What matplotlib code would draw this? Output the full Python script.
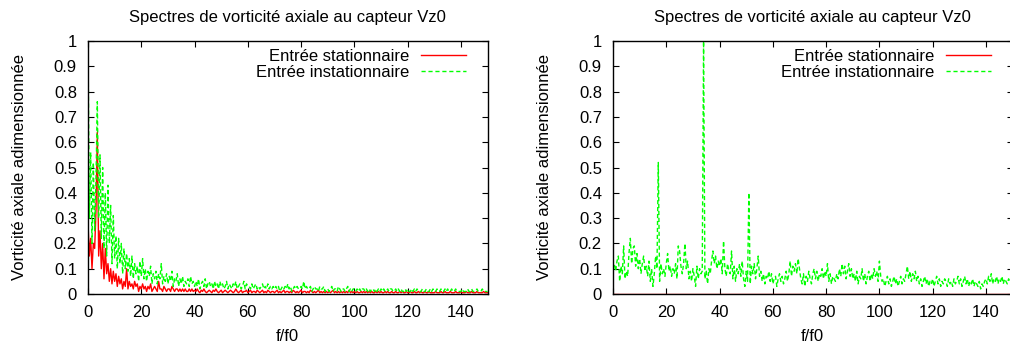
import numpy as np
import matplotlib
matplotlib.use("Agg")
import matplotlib.pyplot as plt

# ============================================
# DATA (step 0.5 in f/f0)
# ============================================

freq = np.arange(0, 150.5, 0.5)

# left panel - unsteady inlet (green)
left_instat = [
    1.00, 0.30, 0.56, 0.20, 0.52, 0.25, 0.45, 0.76, 0.30, 0.55,
    0.22, 0.50, 0.18, 0.40, 0.15, 0.43, 0.20, 0.35, 0.12, 0.31,
    0.14, 0.23, 0.10, 0.22, 0.12, 0.20, 0.08, 0.18, 0.10, 0.16,
    0.09, 0.14, 0.07, 0.15, 0.06, 0.12, 0.08, 0.11, 0.05, 0.13,
    0.07, 0.14, 0.06, 0.10, 0.05, 0.09, 0.07, 0.11, 0.04, 0.08,
    0.06, 0.09, 0.04, 0.08, 0.06, 0.12, 0.04, 0.07, 0.05, 0.08,
    0.04, 0.07, 0.05, 0.09, 0.03, 0.06, 0.05, 0.08, 0.03, 0.06,
    0.04, 0.07, 0.03, 0.05, 0.04, 0.06, 0.03, 0.07, 0.04, 0.05,
    0.03, 0.05, 0.03, 0.06, 0.02, 0.04, 0.05, 0.03, 0.06, 0.02,
    0.04, 0.05, 0.03, 0.04, 0.02, 0.05, 0.03, 0.04, 0.02, 0.05,
    0.03, 0.04, 0.02, 0.03, 0.05, 0.02, 0.04, 0.03, 0.02, 0.04,
    0.03, 0.05, 0.02, 0.03, 0.04, 0.02, 0.03, 0.05, 0.02, 0.04,
    0.03, 0.03, 0.02, 0.04, 0.02, 0.03, 0.04, 0.02, 0.03, 0.02,
    0.03, 0.04, 0.02, 0.03, 0.02, 0.04, 0.02, 0.03, 0.02, 0.03,
    0.02, 0.03, 0.02, 0.03, 0.01, 0.02, 0.03, 0.02, 0.03, 0.02,
    0.04, 0.02, 0.03, 0.01, 0.02, 0.03, 0.02, 0.03, 0.02, 0.02,
    0.03, 0.02, 0.05, 0.02, 0.03, 0.02, 0.02, 0.03, 0.01, 0.02,
    0.03, 0.02, 0.02, 0.01, 0.03, 0.02, 0.02, 0.03, 0.01, 0.02,
    0.02, 0.01, 0.02, 0.03, 0.01, 0.02, 0.02, 0.01, 0.03, 0.02,
    0.01, 0.02, 0.02, 0.01, 0.02, 0.03, 0.01, 0.02, 0.01, 0.02,
    0.02, 0.01, 0.02, 0.01, 0.02, 0.01, 0.02, 0.02, 0.01, 0.02,
    0.01, 0.02, 0.01, 0.02, 0.02, 0.01, 0.02, 0.01, 0.02, 0.01,
    0.02, 0.01, 0.02, 0.01, 0.01, 0.02, 0.01, 0.02, 0.02, 0.01,
    0.01, 0.02, 0.01, 0.02, 0.01, 0.02, 0.01, 0.01, 0.02, 0.01,
    0.02, 0.01, 0.01, 0.02, 0.01, 0.02, 0.01, 0.02, 0.01, 0.01,
    0.01, 0.02, 0.01, 0.01, 0.02, 0.01, 0.01, 0.02, 0.01, 0.02,
    0.01, 0.01, 0.02, 0.01, 0.01, 0.02, 0.01, 0.01, 0.02, 0.01,
    0.02, 0.01, 0.01, 0.02, 0.01, 0.01, 0.02, 0.01, 0.01, 0.01,
    0.01, 0.02, 0.01, 0.01, 0.01, 0.02, 0.01, 0.01, 0.02, 0.01,
    0.01, 0.01, 0.02, 0.01, 0.01, 0.01, 0.02, 0.01, 0.01, 0.01,
    0.01,
]

# left panel - steady inlet (red)
left_stat = [
    0.28, 0.15, 0.22, 0.10, 0.20, 0.18, 0.33, 0.64, 0.15, 0.25,
    0.10, 0.20, 0.06, 0.18, 0.08, 0.12, 0.05, 0.10, 0.04, 0.09,
    0.05, 0.08, 0.03, 0.07, 0.04, 0.06, 0.02, 0.05, 0.03, 0.10,
    0.02, 0.05, 0.03, 0.04, 0.02, 0.05, 0.03, 0.04, 0.01, 0.03,
    0.02, 0.04, 0.02, 0.03, 0.01, 0.03, 0.02, 0.04, 0.01, 0.02,
    0.03, 0.02, 0.01, 0.05, 0.02, 0.02, 0.01, 0.03, 0.02, 0.01,
    0.02, 0.02, 0.01, 0.03, 0.02, 0.01, 0.02, 0.02, 0.01, 0.02,
    0.01, 0.02, 0.01, 0.02, 0.01, 0.01, 0.02, 0.01, 0.02, 0.01,
    0.015, 0.01, 0.02, 0.01, 0.005, 0.015, 0.01, 0.02, 0.01, 0.005,
    0.01, 0.015, 0.01, 0.005, 0.015, 0.01, 0.02, 0.01, 0.005, 0.01,
    0.015, 0.005, 0.01, 0.015, 0.01, 0.005, 0.01, 0.015, 0.01, 0.005,
    0.01, 0.02, 0.01, 0.005, 0.01, 0.015, 0.005, 0.01, 0.01, 0.015,
    0.005, 0.01, 0.015, 0.005, 0.01, 0.01, 0.005, 0.015, 0.01, 0.005,
    0.01, 0.015, 0.005, 0.01, 0.005, 0.015, 0.01, 0.005, 0.01, 0.01,
    0.005, 0.01, 0.015, 0.005, 0.01, 0.005, 0.01, 0.015, 0.005, 0.01,
    0.01, 0.005, 0.01, 0.005, 0.015, 0.01, 0.005, 0.01, 0.005, 0.01,
    0.015, 0.005, 0.01, 0.01, 0.005, 0.01, 0.005, 0.015, 0.01, 0.005,
    0.01, 0.005, 0.01, 0.015, 0.005, 0.01, 0.005, 0.01, 0.005, 0.01,
    0.005, 0.01, 0.005, 0.01, 0.015, 0.005, 0.01, 0.005, 0.01, 0.005,
    0.01, 0.005, 0.01, 0.005, 0.01, 0.005, 0.015, 0.005, 0.01, 0.005,
    0.01, 0.005, 0.01, 0.005, 0.005, 0.01, 0.005, 0.01, 0.005, 0.01,
    0.005, 0.01, 0.005, 0.01, 0.005, 0.005, 0.01, 0.005, 0.01, 0.005,
    0.01, 0.005, 0.005, 0.01, 0.005, 0.01, 0.005, 0.005, 0.01, 0.005,
    0.005, 0.01, 0.005, 0.005, 0.01, 0.005, 0.01, 0.005, 0.005, 0.01,
    0.005, 0.005, 0.01, 0.005, 0.005, 0.01, 0.005, 0.005, 0.01, 0.005,
    0.01, 0.005, 0.005, 0.01, 0.005, 0.005, 0.01, 0.005, 0.005, 0.005,
    0.005, 0.01, 0.005, 0.005, 0.005, 0.01, 0.005, 0.005, 0.01, 0.005,
    0.005, 0.005, 0.01, 0.005, 0.005, 0.005, 0.01, 0.005, 0.005, 0.005,
    0.01, 0.005, 0.005, 0.005, 0.01, 0.005, 0.005, 0.005, 0.01, 0.005,
    0.005, 0.005, 0.01, 0.005, 0.005, 0.005, 0.005, 0.01, 0.005, 0.005,
    0.005,
]

# right panel - unsteady inlet (green), steady one stays at zero
right_instat = [
    0.10, 0.12, 0.09, 0.13, 0.15, 0.05, 0.11, 0.08, 0.19, 0.06,
    0.09, 0.07, 0.16, 0.22, 0.12, 0.18, 0.19, 0.11, 0.16, 0.10,
    0.14, 0.08, 0.12, 0.15, 0.09, 0.11, 0.07, 0.13, 0.05, 0.10,
    0.03, 0.08, 0.15, 0.10, 0.52, 0.05, 0.12, 0.08, 0.10, 0.07,
    0.12, 0.16, 0.09, 0.11, 0.07, 0.10, 0.08, 0.12, 0.06, 0.19,
    0.17, 0.11, 0.08, 0.12, 0.20, 0.10, 0.13, 0.06, 0.09, 0.05,
    0.10, 0.07, 0.03, 0.11, 0.06, 0.10, 0.08, 0.09, 1.00, 0.06,
    0.09, 0.04, 0.10, 0.08, 0.13, 0.17, 0.12, 0.15, 0.10, 0.13,
    0.11, 0.14, 0.08, 0.21, 0.10, 0.07, 0.12, 0.09, 0.08, 0.17,
    0.06, 0.11, 0.05, 0.10, 0.08, 0.12, 0.07, 0.13, 0.06, 0.03,
    0.09, 0.05, 0.40, 0.04, 0.11, 0.08, 0.12, 0.06, 0.10, 0.15,
    0.07, 0.09, 0.05, 0.08, 0.04, 0.07, 0.06, 0.09, 0.05, 0.08,
    0.04, 0.06, 0.07, 0.03, 0.06, 0.08, 0.05, 0.07, 0.04, 0.06,
    0.09, 0.05, 0.08, 0.13, 0.07, 0.11, 0.09, 0.12, 0.08, 0.14,
    0.10, 0.06, 0.04, 0.08, 0.03, 0.07, 0.05, 0.09, 0.06, 0.04,
    0.08, 0.10, 0.06, 0.09, 0.05, 0.08, 0.07, 0.10, 0.06, 0.09,
    0.07, 0.12, 0.05, 0.08, 0.04, 0.07, 0.06, 0.05, 0.08, 0.06,
    0.10, 0.07, 0.12, 0.08, 0.11, 0.06, 0.09, 0.12, 0.07, 0.10,
    0.06, 0.08, 0.05, 0.09, 0.04, 0.07, 0.06, 0.10, 0.05, 0.08,
    0.04, 0.07, 0.09, 0.05, 0.08, 0.06, 0.10, 0.07, 0.09, 0.05,
    0.13, 0.07, 0.05, 0.06, 0.03, 0.05, 0.07, 0.04, 0.06, 0.03,
    0.05, 0.07, 0.04, 0.06, 0.03, 0.05, 0.07, 0.04, 0.06, 0.05,
    0.08, 0.11, 0.06, 0.09, 0.05, 0.08, 0.06, 0.09, 0.05, 0.07,
    0.04, 0.06, 0.03, 0.05, 0.07, 0.04, 0.06, 0.03, 0.05, 0.04,
    0.06, 0.03, 0.05, 0.07, 0.04, 0.06, 0.03, 0.05, 0.04, 0.06,
    0.05, 0.03, 0.06, 0.04, 0.05, 0.03, 0.06, 0.04, 0.05, 0.07,
    0.04, 0.06, 0.03, 0.05, 0.07, 0.04, 0.06, 0.03, 0.05, 0.04,
    0.06, 0.03, 0.05, 0.04, 0.03, 0.05, 0.02, 0.04, 0.03, 0.05,
    0.06, 0.04, 0.07, 0.05, 0.08, 0.04, 0.06, 0.05, 0.07, 0.04,
    0.06, 0.05, 0.07, 0.04, 0.06, 0.05, 0.04, 0.06, 0.05, 0.04,
    0.05,
]
right_stat = [0.0] * len(freq)

title = "Spectres de vorticité axiale au capteur Vz0"
xlabel = "f/f0"
ylabel = "Vorticité axiale adimensionnée"
label_stat = "Entrée stationnaire"
label_instat = "Entrée instationnaire"

x_ticks = [0, 20, 40, 60, 80, 100, 120, 140]
y_ticks = [0, 0.1, 0.2, 0.3, 0.4, 0.5, 0.6, 0.7, 0.8, 0.9, 1]
y_tick_labels = ["0", "0.1", "0.2", "0.3", "0.4", "0.5", "0.6", "0.7", "0.8", "0.9", "1"]


# ============================================
# PLOT
# ============================================

FS = 12

plt.rcParams['font.family'] = ['Liberation Sans', 'DejaVu Sans']
plt.rcParams['font.size'] = FS

fig = plt.figure(figsize=(10.10, 3.49), dpi=100)

W, H = 1010.0, 349.0
ax_left = fig.add_axes([88 / W, 1 - 294 / H, 399.6 / W, 253 / H])
ax_right = fig.add_axes([613 / W, 1 - 294 / H, 399.6 / W, 253 / H])


def draw_panel(ax, stat, instat):
    ax.plot(freq, stat, color='#ff0000', lw=1.0, label=label_stat, zorder=2)
    ax.plot(freq, instat, color='#00ff00', lw=1.0, dashes=(3, 2),
            label=label_instat, zorder=3)

    ax.set_xlim(0, 150)
    ax.set_ylim(0, 1)
    ax.set_xticks(x_ticks)
    ax.set_yticks(y_ticks)
    ax.set_yticklabels(y_tick_labels)
    ax.tick_params(direction='in', top=True, right=True, length=4,
                   width=0.8, pad=8, labelsize=FS)
    for s in ax.spines.values():
        s.set_linewidth(1.0)
        s.set_zorder(5)

    ax.set_title(title, fontsize=FS, pad=13.5)
    ax.set_xlabel(xlabel)
    ax.xaxis.set_label_coords(0.5, -0.137)
    ax.set_ylabel(ylabel)
    ax.yaxis.set_label_coords(-0.152, 0.5)

    ax.legend(loc='upper right', frameon=False, markerfirst=False,
              handlelength=2.7, handletextpad=0.72, labelspacing=0.05,
              borderaxespad=0.0, borderpad=0.0,
              bbox_to_anchor=(0.946, 0.969), fontsize=FS)


draw_panel(ax_left, left_stat, left_instat)
draw_panel(ax_right, right_stat, right_instat)

fig.savefig("out.png", dpi=100)
